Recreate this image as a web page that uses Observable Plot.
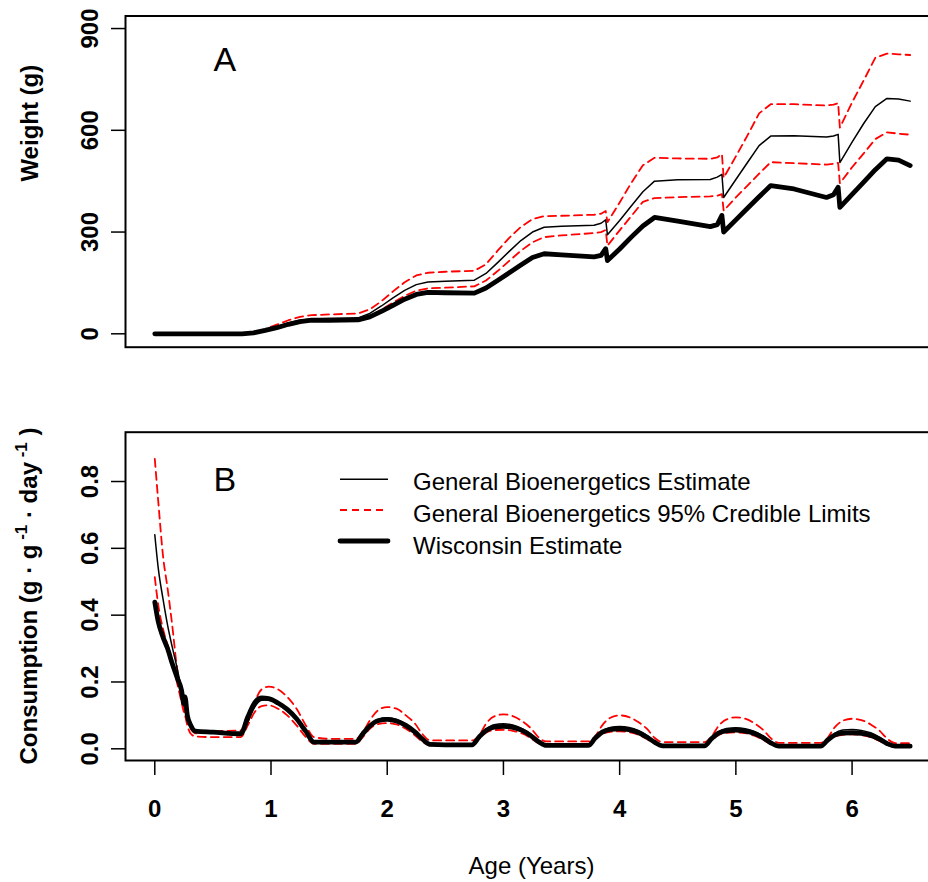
<!DOCTYPE html>
<html><head><meta charset="utf-8">
<script src="https://cdn.jsdelivr.net/npm/d3@7"></script>
<script src="https://cdn.jsdelivr.net/npm/@observablehq/plot@0.6"></script>
<style>
html,body{margin:0;padding:0;background:#fff;overflow:hidden;}
#chart{width:928px;height:882px;position:relative;}
#chart svg{display:block;}
</style></head><body><div id="chart"></div>
<script>
// ---------- Panel A: weight (g) ----------
const tA = [0, 0.5, 0.75, 0.85, 0.95, 1.05, 1.15, 1.25, 1.35, 1.5, 1.75, 1.85, 1.95, 2.05, 2.15, 2.25, 2.35, 2.5, 2.75, 2.85, 2.95, 3.05, 3.15, 3.25, 3.35, 3.5, 3.78, 3.84, 3.88, 3.895, 4.0, 4.1, 4.2, 4.3, 4.5, 4.78, 4.84, 4.88, 4.895, 5.0, 5.1, 5.2, 5.3, 5.5, 5.78, 5.84, 5.88, 5.895, 6.0, 6.1, 6.2, 6.3, 6.4, 6.5];
const wisconsinWeight = [0,0,0, 3,10,18,28,36,40, 40, 41, 50,66,84,102,116,122, 121, 120, 135,157,180,203,225,236, 233, 227,231,251,216, 250,285,318,343, 332, 316,322,349,300, 336,370,404,437, 427, 402,410,432,373, 411,447,484,516,512,496];
const gbWeight = [0,0,0, 3,11,21,32,40,44, 45, 47, 60,82,106,128,145,153, 155, 158, 178,210,243,275,300,314, 317, 320,326,336,292, 334,377,419,450, 454, 455,462,470,402, 455,505,555,583, 584, 580,583,588,505, 565,620,670,694,692,686];
const gbWeightUpper = [0,0,0, 4,14,27,40,50,55, 57, 60, 72,96,125,152,172,180, 183, 186, 205,245,283,315,338,347, 348, 351,354,362,329, 387,445,497,519, 517, 516,520,530,460, 523,585,650,677, 677, 673,676,680,608, 682,747,814,826,824,822];
const gbWeightLower = [0,0,0, 2,9,17,27,34,38, 39, 41, 52,71,92,112,127,134, 136, 140, 157,185,215,245,270,285, 290, 297,300,306,260, 305,347,389,400, 403, 405,407,412,363, 402,437,472,506, 503, 499,501,504,444, 491,532,574,594,590,587];
const weightTicks = [0, 300, 600, 900];

// ---------- Panel B: consumption ----------
const tB = [0, 0.03, 0.07, 0.11, 0.15, 0.19, 0.23, 0.25, 0.26, 0.28, 0.31, 0.35, 0.5,
  0.74, 0.8, 0.86, 0.92, 0.98, 1.06, 1.14, 1.22, 1.3, 1.37, 1.5,
  1.73, 1.79, 1.85, 1.92, 2.0, 2.08, 2.16, 2.24, 2.3, 2.37, 2.5,
  2.73, 2.79, 2.85, 2.92, 3.0, 3.08, 3.16, 3.24, 3.3, 3.37, 3.5,
  3.73, 3.79, 3.85, 3.92, 4.0, 4.08, 4.16, 4.24, 4.3, 4.37, 4.5,
  4.73, 4.79, 4.85, 4.92, 5.0, 5.08, 5.16, 5.24, 5.3, 5.37, 5.5,
  5.73, 5.79, 5.85, 5.92, 6.0, 6.08, 6.16, 6.24, 6.3, 6.37, 6.5];
const wisconsinCons = [0.439, 0.38, 0.335, 0.30, 0.255, 0.215, 0.175, 0.135, 0.155, 0.10, 0.07, 0.053, 0.05,
  0.045, 0.095, 0.138, 0.152, 0.150, 0.137, 0.118, 0.09, 0.052, 0.02, 0.02,
  0.020, 0.045, 0.068, 0.084, 0.088, 0.083, 0.070, 0.050, 0.030, 0.013, 0.012,
  0.012, 0.035, 0.055, 0.065, 0.067, 0.064, 0.055, 0.038, 0.022, 0.01, 0.01,
  0.01, 0.032, 0.05, 0.058, 0.06, 0.057, 0.049, 0.034, 0.02, 0.009, 0.009,
  0.009, 0.03, 0.047, 0.054, 0.056, 0.053, 0.046, 0.032, 0.018, 0.008, 0.008,
  0.008, 0.026, 0.041, 0.047, 0.048, 0.046, 0.04, 0.028, 0.016, 0.008, 0.008];
const gbCons = [0.641, 0.54, 0.45, 0.37, 0.305, 0.245, 0.175, 0.13, 0.125, 0.095, 0.07, 0.05, 0.048,
  0.045, 0.08, 0.125, 0.145, 0.147, 0.14, 0.12, 0.09, 0.05, 0.02, 0.02,
  0.020, 0.040, 0.068, 0.088, 0.093, 0.088, 0.074, 0.054, 0.033, 0.015, 0.013,
  0.012, 0.033, 0.057, 0.072, 0.075, 0.071, 0.06, 0.043, 0.025, 0.011, 0.011,
  0.011, 0.03, 0.052, 0.064, 0.067, 0.064, 0.055, 0.039, 0.022, 0.01, 0.01,
  0.01, 0.028, 0.05, 0.061, 0.063, 0.06, 0.052, 0.037, 0.021, 0.01, 0.01,
  0.01, 0.025, 0.046, 0.056, 0.058, 0.055, 0.048, 0.034, 0.02, 0.01, 0.01];
const gbConsUpper = [0.868, 0.74, 0.58, 0.48, 0.37, 0.245, 0.165, 0.125, 0.105, 0.08, 0.06, 0.046, 0.052,
  0.055, 0.08, 0.14, 0.178, 0.186, 0.178, 0.155, 0.12, 0.07, 0.035, 0.03,
  0.030, 0.05, 0.085, 0.115, 0.125, 0.12, 0.10, 0.075, 0.045, 0.025, 0.025,
  0.025, 0.04, 0.075, 0.097, 0.103, 0.098, 0.083, 0.06, 0.035, 0.022, 0.022,
  0.022, 0.038, 0.07, 0.093, 0.1, 0.095, 0.08, 0.058, 0.033, 0.02, 0.02,
  0.02, 0.036, 0.068, 0.088, 0.094, 0.09, 0.076, 0.055, 0.032, 0.018, 0.018,
  0.018, 0.033, 0.064, 0.084, 0.09, 0.086, 0.073, 0.053, 0.031, 0.017, 0.017];
const gbConsLower = [0.514, 0.43, 0.36, 0.31, 0.26, 0.2, 0.14, 0.11, 0.1, 0.07, 0.045, 0.037, 0.035,
  0.035, 0.07, 0.11, 0.128, 0.13, 0.12, 0.10, 0.07, 0.035, 0.015, 0.015,
  0.015, 0.035, 0.06, 0.074, 0.077, 0.073, 0.06, 0.04, 0.022, 0.01, 0.01,
  0.01, 0.03, 0.048, 0.056, 0.057, 0.054, 0.046, 0.031, 0.017, 0.008, 0.008,
  0.008, 0.028, 0.044, 0.051, 0.052, 0.05, 0.042, 0.028, 0.016, 0.007, 0.007,
  0.007, 0.026, 0.041, 0.048, 0.049, 0.047, 0.039, 0.026, 0.014, 0.006, 0.006,
  0.006, 0.022, 0.036, 0.042, 0.043, 0.041, 0.035, 0.023, 0.012, 0.005, 0.005];
const consTicks = [0, 0.2, 0.4, 0.6, 0.8];
const ageTicks = [0, 1, 2, 3, 4, 5, 6];

const legendLabels = ["General Bioenergetics Estimate", "General Bioenergetics 95% Credible Limits", "Wisconsin Estimate"];

const fontFam = "'Liberation Sans', Arial, Helvetica, sans-serif";
const pairs = (t, v) => t.map((d, i) => [d, v[i]]);

const thinStyle = {stroke: "black", strokeWidth: 1.5};
const redStyle = {stroke: "#ff0000", strokeWidth: 1.8, strokeDasharray: "8,5"};
const thickStyle = {stroke: "black", strokeWidth: 4.8, strokeLinejoin: "round", strokeLinecap: "round"};

const chartA = Plot.plot({
  width: 928, height: 390,
  marginLeft: 125, marginRight: -9, marginTop: 15.5, marginBottom: 43.3,
  style: {fontFamily: fontFam, fontSize: "24px", overflow: "hidden", background: "white", color: "black"},
  x: {domain: [-0.252, 6.735], axis: null},
  y: {domain: [-39.5, 937]},
  marks: [
    Plot.axisY(weightTicks, {tickSize: 14, tickPadding: 14, tickRotate: -90, fontWeight: "bold", strokeWidth: 1.5, label: null}),
    Plot.line(pairs(tA, gbWeightUpper), redStyle),
    Plot.line(pairs(tA, gbWeightLower), redStyle),
    Plot.line(pairs(tA, gbWeight), thinStyle),
    Plot.line(pairs(tA, wisconsinWeight), thickStyle),
    Plot.frame({stroke: "black", strokeWidth: 2}),
    Plot.text(["A"], {frameAnchor: "top-left", dx: 88, dy: 55, lineAnchor: "bottom", fontSize: 34}),
    Plot.text(["Weight (g)"], {frameAnchor: "left", dx: -88, rotate: -90, lineAnchor: "bottom", fontWeight: "bold", fontSize: 24})
  ]
});

const chartB = Plot.plot({
  width: 928, height: 492,
  marginLeft: 125, marginRight: -9, marginTop: 41.7, marginBottom: 122,
  style: {fontFamily: fontFam, fontSize: "24px", overflow: "hidden", background: "white", color: "black"},
  x: {domain: [-0.252, 6.735]},
  y: {domain: [-0.035, 0.9476]},
  marks: [
    Plot.axisX(ageTicks, {tickSize: 15, tickPadding: 24, tickFormat: d3.format("d"), fontWeight: "bold", strokeWidth: 1.5, label: null}),
    Plot.axisY(consTicks, {tickSize: 14, tickPadding: 14, tickRotate: -90, tickFormat: d3.format(".1f"), fontWeight: "bold", strokeWidth: 1.5, label: null}),
    Plot.line(pairs(tB, gbConsUpper), {...redStyle, curve: "monotone-x"}),
    Plot.line(pairs(tB, gbConsLower), {...redStyle, curve: "monotone-x"}),
    Plot.line(pairs(tB, gbCons), {...thinStyle, curve: "monotone-x"}),
    Plot.line(pairs(tB, wisconsinCons), {...thickStyle, curve: "monotone-x"}),
    Plot.frame({stroke: "black", strokeWidth: 2}),
    Plot.text(["B"], {frameAnchor: "top-left", dx: 88, dy: 58.3, lineAnchor: "bottom", fontSize: 34}),
    Plot.text(["Age (Years)"], {frameAnchor: "bottom", dy: 113, lineAnchor: "bottom", fontSize: 24})
  ]
});

const root = document.getElementById("chart");
root.appendChild(chartA);
root.appendChild(chartB);

// Legend and y label with superscripts for panel B
const svgB = d3.select(chartB);
const lg = svgB.append("g").attr("font-family", fontFam).attr("font-size", 24)
  .attr("fill", "black").attr("text-anchor", "start");
const legendStyles = [thinStyle, redStyle, thickStyle];
const rowLineY = [89.3, 120, 151];
const rowTextY = [100, 131.5, 163.5];
legendLabels.forEach((lab, i) => {
  const s = legendStyles[i];
  const ln = lg.append("line").attr("x1", 340).attr("x2", 388).attr("y1", rowLineY[i]).attr("y2", rowLineY[i])
    .attr("stroke", s.stroke).attr("stroke-width", s.strokeWidth);
  if (s.strokeDasharray) ln.attr("stroke-dasharray", "7,5");
  if (s.strokeLinecap) ln.attr("stroke-linecap", "round");
  lg.append("text").attr("x", 413).attr("y", rowTextY[i]).attr("text-anchor", "start").text(lab);
});

const yl = svgB.append("text").attr("transform", "translate(37,206) rotate(-90)")
  .attr("text-anchor", "middle").attr("font-weight", "bold").attr("font-size", 24)
  .attr("font-family", fontFam).attr("fill", "black");
yl.append("tspan").text("Consumption (g \u00b7 g");
yl.append("tspan").attr("font-size", 17).attr("dy", -10).text(" -1");
yl.append("tspan").attr("dy", 10).text(" \u00b7 day");
yl.append("tspan").attr("font-size", 17).attr("dy", -10).text(" -1");
yl.append("tspan").attr("dy", 10).text(" )");
</script></body></html>
